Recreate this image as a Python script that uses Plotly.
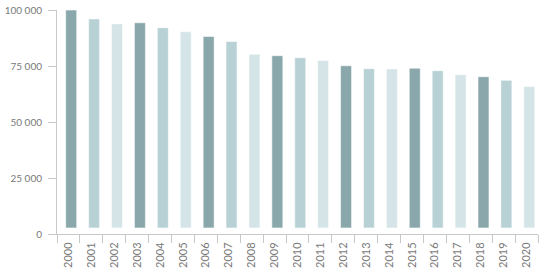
import plotly.graph_objects as go

years = [str(y) for y in range(2000, 2021)]
values = [100000, 96000, 93800, 94300, 92100, 90300, 88200, 85900, 80200, 79600,
          78700, 77400, 75100, 73800, 73700, 74000, 72900, 71100, 70200, 68600, 65800]
palette = ["#8aa8ab", "#b8d1d5", "#d4e4e7"]
y_ticks = [0, 25000, 50000, 75000, 100000]
y_tick_text = ["0", "25 000", "50 000", "75 000", "100 000"]

BAR_GAP = 2700  # visual gap between bars and the baseline

colors = [palette[i % 3] for i in range(len(years))]

fig = go.Figure(go.Bar(
    x=years,
    y=[v - BAR_GAP for v in values],
    base=BAR_GAP,
    width=0.48,
    offset=-0.12,
    marker=dict(color=colors, line=dict(color="rgba(255,255,255,0.55)", width=1)),
    hoverinfo="skip",
))

font_family = "Lato, 'Open Sans', sans-serif"

fig.update_layout(
    width=540, height=271,
    margin=dict(l=57, r=2, t=10, b=37),
    paper_bgcolor="white", plot_bgcolor="white",
    showlegend=False,
    xaxis=dict(
        type="category",
        showgrid=False, zeroline=False,
        showline=True, linecolor="#c8c8c8", linewidth=1,
        ticks="outside", ticklen=8, tickcolor="#c8c8c8", tickwidth=1,
        tickson="boundaries",
        tickangle=-90,
        tickfont=dict(family=font_family, size=11, color="#7a7a7a"),
        ticklabelstandoff=3,
        range=[-0.5, 20.5],
    ),
    yaxis=dict(
        range=[0, 100000],
        showgrid=False, zeroline=False,
        showline=True, linecolor="#c8c8c8", linewidth=1,
        ticks="outside", ticklen=8, tickcolor="#c8c8c8", tickwidth=1,
        tickvals=y_ticks, ticktext=y_tick_text,
        tickfont=dict(family=font_family, size=10, color="#7a7a7a"),
        ticklabelstandoff=4,
    ),
)

fig.write_html("out.html")
